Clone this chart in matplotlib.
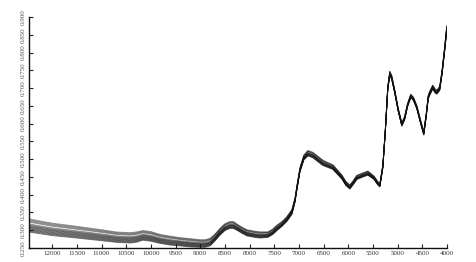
import matplotlib
matplotlib.use("Agg")
import matplotlib.pyplot as plt
import numpy as np

wavenumber = [12470, 12000, 11500, 11028, 10700, 10421, 10300, 10158, 10000, 9814, 9600, 9409,
              9200, 9004, 8900, 8800, 8700, 8600, 8500, 8400, 8330, 8256, 8150, 8053, 7900,
              7790, 7628, 7530, 7446, 7343, 7243, 7142, 7080, 7041, 6980, 6900, 6818, 6720,
              6636, 6515, 6400, 6313, 6130, 6050, 5969, 5900, 5827, 5700, 5604, 5480, 5400,
              5361, 5300, 5250, 5200, 5159, 5120, 5058, 4990, 4916, 4860, 4800, 4734, 4680,
              4613, 4540, 4471, 4420, 4380, 4349, 4289, 4240, 4208, 4170, 4147, 4100, 4046, 4005]
absorbance = [0.314, 0.303, 0.295, 0.287, 0.281, 0.279, 0.281, 0.286, 0.283, 0.276, 0.271, 0.268,
              0.265, 0.263, 0.263, 0.267, 0.280, 0.296, 0.309, 0.315, 0.315, 0.309, 0.300, 0.293,
              0.289, 0.287, 0.288, 0.296, 0.307, 0.318, 0.332, 0.352, 0.385, 0.420, 0.470, 0.505,
              0.517, 0.512, 0.503, 0.490, 0.483, 0.478, 0.450, 0.432, 0.422, 0.434, 0.449, 0.456,
              0.461, 0.448, 0.432, 0.427, 0.480, 0.580, 0.700, 0.742, 0.730, 0.690, 0.640, 0.598,
              0.615, 0.652, 0.678, 0.670, 0.647, 0.608, 0.573, 0.625, 0.675, 0.686, 0.703, 0.692,
              0.689, 0.695, 0.700, 0.745, 0.812, 0.868]
band_half = [0.019, 0.018, 0.017, 0.016, 0.015, 0.015, 0.015, 0.014, 0.014, 0.013, 0.013, 0.012,
             0.012, 0.011, 0.011, 0.011, 0.010, 0.010, 0.010, 0.010, 0.010, 0.009, 0.009, 0.009,
             0.009, 0.009, 0.008, 0.008, 0.008, 0.007, 0.007, 0.007, 0.006, 0.006, 0.006, 0.007,
             0.008, 0.008, 0.008, 0.008, 0.007, 0.007, 0.006, 0.006, 0.006, 0.006, 0.006, 0.006,
             0.006, 0.005, 0.005, 0.005, 0.005, 0.005, 0.005, 0.006, 0.006, 0.005, 0.005, 0.005,
             0.005, 0.005, 0.005, 0.005, 0.005, 0.005, 0.005, 0.005, 0.005, 0.006, 0.006, 0.006,
             0.006, 0.006, 0.006, 0.006, 0.007, 0.008]
sample_offsets = [-1.0, -0.88, -0.76, -0.64, -0.52, -0.40, -0.28, -0.16, -0.04, 0.08, 0.20,
                  0.46, 0.58, 0.70, 0.82, 0.94]

x_ticks = [12000, 11500, 11000, 10500, 10000, 9500, 9000, 8500, 8000, 7500, 7000,
           6500, 6000, 5500, 5000, 4500, 4000]
y_ticks = [0.25, 0.30, 0.35, 0.40, 0.45, 0.50, 0.55, 0.60, 0.65, 0.70, 0.75, 0.80, 0.85, 0.90]

plt.rcParams['font.family'] = ['Liberation Serif', 'DejaVu Serif']
fig = plt.figure(figsize=(4.77, 2.62), dpi=100)
ax = fig.add_axes([29/477, 14/262, 418/477, 231/262])

wn = np.array(wavenumber)
base = np.array(absorbance)
hw = np.array(band_half)
for off in sample_offsets:
    ax.plot(wn, base + off * hw, color='#111111', lw=0.65,
            alpha=0.6 if off < 0 else 0.45, solid_joinstyle='round')

ax.set_xlim(12470, 4000)
ax.set_ylim(0.25, 0.90)
ax.set_xticks(x_ticks)
ax.set_xticklabels([str(t) for t in x_ticks])
ax.set_yticks(y_ticks)
ax.set_yticklabels(['%.3f' % t for t in y_ticks], rotation=90, va='center')
ax.tick_params(direction='in', length=3, width=0.8, labelsize=5, pad=2, colors='#222222')
ax.tick_params(axis='y', labelcolor='#555555')
ax.tick_params(axis='x', labelcolor='#333333')
for s in ['top', 'right']:
    ax.spines[s].set_visible(False)
for s in ['left', 'bottom']:
    ax.spines[s].set_linewidth(1.0)
    ax.spines[s].set_color('#111111')

fig.savefig('out.png', dpi=100)
